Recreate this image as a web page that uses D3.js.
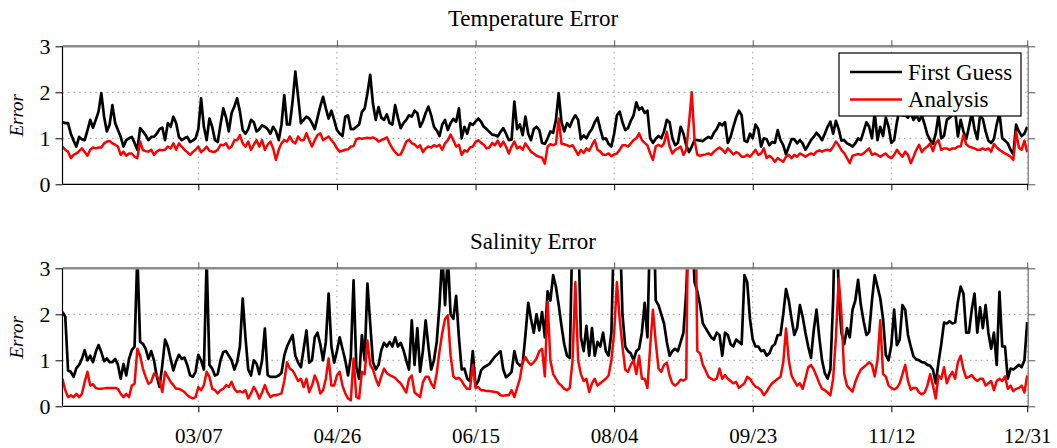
<!DOCTYPE html>
<html><head><meta charset="utf-8">
<script src="https://cdn.jsdelivr.net/npm/d3@7"></script>
<style>
body{margin:0;background:#fff;}
svg{display:block;}
text{font-family:"Liberation Serif","Times New Roman",serif;fill:#000;}
</style>
</head><body>
<svg id="c" width="1057" height="448"></svg>
<script>
const startDate = "2009-01-17";
const xTickLabels = ["03/07","04/26","06/15","08/04","09/23","11/12","12/31"];
const yTickLabels = ["0","1","2","3"];
const panelTitles = ["Temperature Error","Salinity Error"];
const seriesNames = ["First Guess","Analysis"];
const yLabel = "Error";

const tempFirstGuess = [
1.35,1.33,1.33,1.1,0.95,0.82,1.03,0.98,0.96,1.17,
1.40,1.23,1.40,1.58,1.98,1.47,1.15,1.3,1.72,1.33,
1.18,1.03,0.82,0.96,1.0,1.03,0.9,0.75,1.22,1.15,
1.07,0.96,1.03,1.03,1.1,1.2,1.23,0.96,1.33,1.25,
1.47,1.33,1.03,0.96,1.0,1.03,0.92,0.95,1.0,1.2,
1.87,1.25,0.96,1.43,1.25,0.96,0.92,1.3,1.65,1.45,
1.15,1.55,1.69,1.87,1.58,1.18,1.10,1.2,1.40,1.35,
1.15,1.2,1.28,1.25,1.20,1.10,1.25,1.15,0.96,1.3,
1.94,1.3,1.3,1.8,2.45,1.9,1.33,1.4,1.47,1.43,
1.33,1.2,1.45,1.7,1.9,1.65,1.43,1.6,1.4,1.18,
1.1,1.05,1.47,1.5,1.2,1.2,1.25,1.3,1.57,1.65,
1.98,2.38,1.75,1.4,1.68,1.45,1.4,1.52,1.33,1.30,
1.72,1.45,1.22,1.33,1.40,1.50,1.47,1.60,1.55,1.25,
1.37,1.55,1.69,1.5,1.25,1.17,1.05,1.3,1.40,1.18,
1.33,1.42,1.36,1.65,1.0,1.25,1.1,1.33,1.29,1.36,
1.43,1.36,1.25,1.20,1.14,1.08,1.07,1.04,1.14,1.22,
1.10,0.96,0.97,1.8,1.2,1.3,1.07,1.47,1.1,0.96,
1.2,1.25,1.18,0.9,0.88,1.0,1.15,1.12,1.4,1.98,
1.35,1.15,1.33,1.25,1.40,1.5,1.4,0.98,1.06,1.0,
1.12,1.2,1.35,1.45,1.2,0.98,1.0,0.88,0.82,1.1,
1.5,1.58,1.35,1.18,1.22,1.38,1.5,1.78,1.62,1.67,
1.55,1.6,1.0,0.9,0.99,1.05,1.0,1.15,1.4,1.35,
1.0,0.85,0.9,1.25,1.1,0.85,0.7,0.82,0.96,0.96,
0.95,0.94,0.99,1.03,1.0,1.12,1.2,1.33,1.28,1.35,
0.9,1.03,1.25,1.45,1.6,1.5,0.95,0.92,1.1,1.0,
1.3,1.2,0.82,1.0,0.98,0.85,0.92,0.9,1.18,0.96,
0.85,0.65,0.82,0.98,0.98,0.89,0.96,0.89,0.75,0.85,
0.96,1.03,1.12,1.05,0.96,1.1,1.25,1.36,1.10,1.38,
1.2,0.95,0.96,0.89,0.86,0.82,0.89,1.0,0.96,1.15,
1.35,1.25,1.0,1.55,0.96,1.25,1.05,1.45,1.25,0.9,
0.96,1.35,1.65,1.5,1.5,1.45,1.55,1.4,1.5,1.38,
1.5,1.3,1.08,0.96,0.88,1.1,1.5,1.0,1.05,1.4,
1.45,1.5,1.6,1.04,1.4,1.15,0.98,1.25,1.55,1.2,
0.98,1.5,1.42,1.15,0.95,0.90,0.98,1.3,1.55,1.0,
0.95,0.89,0.75,0.65,1.3,1.15,1.05,1.1,1.25
];
const tempAnalysis = [
0.82,0.75,0.71,0.57,0.64,0.67,0.72,0.78,0.70,0.62,
0.75,0.80,0.78,0.80,0.80,0.89,0.93,0.94,0.89,0.86,
0.82,0.64,0.71,0.62,0.67,0.67,0.60,0.57,0.93,0.75,
0.72,0.71,0.75,0.64,0.71,0.75,0.74,0.75,0.82,0.78,
0.89,0.75,0.89,0.82,0.75,0.70,0.64,0.70,0.75,0.82,
0.70,0.75,0.82,0.73,0.71,0.71,0.75,0.86,0.85,0.89,
0.78,0.82,0.96,0.96,1.07,0.89,0.82,0.93,0.75,0.86,
0.96,0.82,0.96,0.75,0.86,0.93,0.78,0.53,0.75,0.89,
0.96,0.93,1.04,0.93,0.89,1.04,0.96,0.96,1.11,0.96,
0.82,0.96,1.07,1.11,0.96,1.0,1.04,0.96,0.89,0.78,
0.71,0.73,0.75,0.76,0.82,0.83,0.98,1.0,0.99,1.0,
1.01,1.0,1.02,0.99,0.93,0.96,0.99,1.02,0.89,0.78,
0.70,0.64,0.65,0.78,0.93,0.97,0.89,0.87,0.80,0.85,
0.70,0.78,0.82,0.80,0.85,0.82,0.86,0.75,0.89,0.96,
1.08,0.96,0.82,0.86,0.64,0.74,0.71,0.80,0.82,0.92,
0.96,0.90,0.86,0.78,0.80,0.90,0.85,0.95,0.82,0.93,
0.82,0.67,0.82,0.93,0.78,0.82,0.75,0.89,0.80,0.71,
0.67,0.62,0.6,0.58,0.45,0.82,0.87,0.85,0.88,1.43,
0.88,0.87,0.85,0.82,0.85,0.75,0.64,0.75,0.68,0.78,
0.73,0.85,0.96,0.75,0.71,0.64,0.64,0.67,0.61,0.65,
0.67,0.75,0.85,0.85,0.82,0.89,0.96,1.0,1.11,0.96,
0.9,0.85,0.67,0.53,0.82,0.86,0.82,0.89,1.14,0.82,
0.67,0.75,0.78,0.82,0.64,0.75,1.33,2.0,0.96,0.64,
0.62,0.64,0.65,0.67,0.64,0.71,0.76,0.80,0.75,0.68,
0.78,0.72,0.65,0.7,0.67,0.60,0.6,0.64,0.6,0.67,
0.75,0.64,0.67,0.78,0.57,0.62,0.57,0.49,0.57,0.53,
0.49,0.6,0.64,0.57,0.64,0.60,0.67,0.64,0.60,0.64,
0.67,0.64,0.71,0.74,0.71,0.74,0.75,0.73,0.82,0.93,
0.85,0.74,0.68,0.57,0.46,0.62,0.64,0.66,0.64,0.67,
0.73,0.78,0.64,0.67,0.64,0.60,0.64,0.67,0.60,0.57,
0.64,0.75,0.67,0.60,0.71,0.64,0.46,0.6,0.75,0.86,
0.70,0.78,0.82,0.89,0.72,0.90,0.96,0.75,0.78,0.78,
0.75,0.78,0.78,0.82,0.82,1.07,0.87,0.82,0.80,0.78,
0.75,0.75,0.78,0.75,0.78,0.71,0.88,0.80,0.75,0.71,
0.67,0.64,0.6,0.53,1.14,0.8,0.75,0.95,0.7
];
const salFirstGuess = [
2.05,1.95,0.78,0.75,0.64,0.83,0.9,1.03,1.22,1.0,
1.1,0.96,1.18,1.33,1.18,0.98,1.04,0.96,0.96,1.03,
0.9,0.6,0.92,0.67,1.03,1.22,1.3,3.3,1.4,1.36,
1.25,1.03,1.2,1.0,0.65,0.42,0.89,1.45,1.3,1.03,
0.78,0.98,1.12,1.03,1.06,0.9,0.68,0.64,0.75,1.12,
1.0,0.8,3.2,0.9,0.82,0.67,0.7,1.0,1.18,1.2,
1.1,1.0,0.8,0.96,1.3,2.34,1.5,0.8,0.67,1.0,
0.93,0.7,1.0,1.69,0.68,0.64,0.64,0.64,0.67,0.73,
1.1,1.3,1.43,1.55,1.1,0.95,0.85,1.25,1.65,0.95,
1.0,1.5,1.6,1.35,1.0,1.4,2.45,1.3,0.95,1.2,
1.5,1.25,1.0,0.67,1.07,2.74,0.85,0.6,1.55,1.0,
2.67,1.8,0.96,0.8,0.9,1.22,1.38,1.3,1.4,1.3,
1.5,1.3,1.38,1.22,1.0,0.8,1.87,0.9,1.7,0.75,
1.2,1.87,1.3,0.8,1.0,1.4,2.2,3.3,2.2,3.3,
2.0,1.9,2.4,1.5,0.8,0.82,0.6,0.55,1.2,0.45,
0.55,0.78,0.85,0.88,0.92,1.0,1.08,1.14,1.2,0.8,
0.63,0.68,0.75,1.2,0.95,0.88,0.93,1.55,2.25,1.9,
1.6,2.0,1.65,2.05,1.5,2.5,2.3,2.85,2.6,2.2,
1.75,1.35,1.1,1.05,4,5,4,1.5,1.2,1.75,
1.1,1.7,1.1,1.4,1.3,1.6,1.2,1.1,1.6,4,
5,4,2.0,1.3,1.2,1.15,1.0,1.2,1.25,1.6,
2.25,1.5,4,5,2.3,2.2,2.0,1.8,1.4,1.1,
1.2,1.25,1.2,1.4,1.6,2.5,4,4,2.7,2.5,
2.2,1.8,1.7,1.6,1.5,1.45,1.6,1.55,1.1,1.6,
1.55,1.35,1.3,1.45,1.4,1.35,2.85,2.7,1.9,1.45,
1.3,1.3,1.2,1.22,1.1,1.15,1.3,1.35,1.55,1.55,
2.0,2.55,2.3,1.9,1.55,1.7,2.2,1.95,1.6,1.3,
1.05,1.65,2.1,1.5,1.0,0.72,0.6,0.8,2.3,5,
2.4,1.6,1.35,1.7,1.5,2.1,2.3,2.75,2.2,1.85,
1.55,1.62,2.3,2.85,2.6,2.35,1.9,1.12,1.0,1.33,
2.1,1.33,1.45,2.2,2.1,1.55,1.3,1.08,1.02,1.0,
0.96,0.95,0.9,0.88,0.8,0.5,0.95,1.35,1.82,1.8,
1.85,1.8,1.82,2.27,2.6,2.45,1.6,1.6,2.1,2.45,
1.6,2.15,1.7,2.2,1.6,1.25,1.6,0.9,2.49,1.3,
1.3,0.6,0.82,0.8,0.85,0.9,0.85,1.0,1.83
];
const salAnalysis = [
0.6,0.35,0.2,0.24,0.2,0.27,0.2,0.27,0.53,0.75,
0.45,0.48,0.40,0.38,0.38,0.39,0.4,0.4,0.4,0.4,
0.38,0.27,0.2,0.27,0.2,0.45,0.49,1.25,1.1,0.82,
0.64,0.49,0.53,0.71,0.67,0.56,0.31,0.75,0.64,0.53,
0.46,0.38,0.38,0.35,0.31,0.24,0.2,0.17,0.2,0.42,
0.35,0.46,0.75,0.64,0.38,0.35,0.28,0.35,0.38,0.46,
0.42,0.53,0.38,0.31,0.33,0.3,0.35,0.17,0.28,0.42,
0.32,0.17,0.3,0.46,0.3,0.2,0.24,0.24,0.26,0.28,
0.55,0.96,0.82,0.78,0.67,0.55,0.6,0.42,0.6,0.31,
0.45,0.67,0.53,0.28,0.35,0.6,1.04,0.45,0.45,0.67,
0.75,0.45,0.28,0.17,0.13,1.04,0.2,0.17,0.75,0.7,
1.43,0.9,0.8,0.6,0.45,0.65,0.82,0.72,0.68,0.65,
0.62,0.55,0.5,0.4,0.3,0.6,0.67,0.3,0.25,0.2,
0.52,0.64,0.64,0.5,0.4,0.72,1.2,1.6,1.9,1.98,
1.1,0.65,0.6,0.62,0.55,0.45,0.38,0.38,0.9,0.4,
0.42,0.35,0.35,0.33,0.33,0.32,0.31,0.3,0.24,0.23,
0.24,0.24,0.35,0.2,0.4,0.6,0.96,1.07,0.96,0.9,
0.96,1.04,1.2,1.25,0.65,2.27,1.0,0.7,0.6,0.5,
0.45,0.38,0.35,0.4,1.0,2.7,1.0,0.7,0.55,0.6,
0.31,0.5,0.6,0.45,0.5,0.55,0.6,0.67,1.0,1.6,
2.7,1.9,1.3,0.8,0.75,0.9,1.0,0.7,1.1,0.6,
0.6,0.4,1.3,2.1,1.4,0.82,0.75,0.9,0.95,0.67,
0.5,0.45,0.5,0.58,0.56,0.6,6,6,6,1.2,
1.15,0.9,0.78,0.64,0.6,0.57,0.6,0.82,0.6,0.68,
0.6,0.55,0.5,0.53,0.4,0.45,0.5,0.64,0.6,0.5,
0.43,0.4,0.35,0.24,0.32,0.42,0.5,0.55,0.6,0.64,
0.95,1.69,1.0,0.67,0.55,0.45,0.5,0.38,0.6,0.85,
0.9,0.8,0.66,0.5,0.38,0.35,0.3,0.24,0.6,1.5,
2.78,2.0,0.7,0.45,0.38,0.32,0.53,0.68,0.8,0.85,
0.9,0.96,0.9,0.65,1.0,1.87,0.7,0.65,0.45,0.4,
0.37,0.4,0.5,0.7,0.9,0.55,0.36,0.4,0.4,0.3,
0.26,0.3,0.45,0.7,0.45,0.17,0.67,0.6,0.85,0.5,
0.65,0.75,0.6,0.96,1.1,0.8,0.62,0.64,0.68,0.6,
0.55,0.6,0.6,0.45,0.5,0.55,0.35,0.55,0.6,0.55,
0.65,0.38,0.45,0.33,0.38,0.4,0.45,0.3,0.67
];

const svg = d3.select("#c");
const start = d3.utcParse("%Y-%m-%d")(startDate);
const dates = tempFirstGuess.map((_, i) => d3.utcDay.offset(start, i));
const end = new Date(+dates[dates.length - 1] + 0.4 * 864e5);
const year = startDate.slice(0, 4);
const tickDates = xTickLabels.map(s => d3.utcParse("%m/%d/%Y")(s + "/" + year));
const L = 62.5, R = 1028.3;
const x = d3.scaleUtc().domain([start, end]).range([L, R]);
const FONT = '"Liberation Serif","Times New Roman",serif';

const panels = [
  {title: panelTitles[0], fg: tempFirstGuess, an: tempAnalysis, bottom: 184.3, top: 46.3, titleY: 26, labels: false, legend: true},
  {title: panelTitles[1], fg: salFirstGuess, an: salAnalysis, bottom: 406.3, top: 268.3, titleY: 249, labels: true, legend: false}
];

panels.forEach((p, k) => {
  const y = d3.scaleLinear().domain([0, 3]).range([p.bottom, p.top]);
  const g = svg.append("g");

  // grid
  g.append("g").selectAll("line").data([1, 2]).join("line")
    .attr("x1", L).attr("x2", R).attr("y1", d => y(d)).attr("y2", d => y(d))
    .attr("stroke", "#9a9a9a").attr("stroke-width", 1).attr("stroke-dasharray", "1.5,4");
  g.append("g").selectAll("line").data(tickDates).join("line")
    .attr("x1", d => x(d)).attr("x2", d => x(d)).attr("y1", p.top).attr("y2", p.bottom)
    .attr("stroke", "#9a9a9a").attr("stroke-width", 1).attr("stroke-dasharray", "1.5,4");

  // clip
  const cid = "clip" + k;
  svg.append("clipPath").attr("id", cid).append("rect")
    .attr("x", L).attr("y", p.top).attr("width", R - L).attr("height", p.bottom - p.top);

  const line = d3.line().x((d, i) => x(dates[i])).y(d => y(d));
  const lg = g.append("g").attr("clip-path", `url(#${cid})`);
  lg.append("path").attr("d", line(p.fg)).attr("fill", "none").attr("stroke", "#000")
    .attr("stroke-width", 2.7).attr("stroke-linejoin", "round");
  lg.append("path").attr("d", line(p.an)).attr("fill", "none").attr("stroke", "#ff0000")
    .attr("stroke-width", 2.5).attr("stroke-linejoin", "round");

  // frame
  g.append("line").attr("x1", L).attr("x2", R).attr("y1", p.top).attr("y2", p.top)
    .attr("stroke", "#8c8c8c").attr("stroke-width", 2.5);
  g.append("line").attr("x1", R).attr("x2", R).attr("y1", p.top).attr("y2", p.bottom)
    .attr("stroke", "#8c8c8c").attr("stroke-width", 1.5);
  g.append("line").attr("x1", L).attr("x2", L).attr("y1", p.top).attr("y2", p.bottom)
    .attr("stroke", "#000").attr("stroke-width", 1.2);
  g.append("line").attr("x1", L).attr("x2", R).attr("y1", p.bottom).attr("y2", p.bottom)
    .attr("stroke", "#000").attr("stroke-width", 1.2);

  // axes
  const ya = d3.axisLeft(y).tickValues([0, 1, 2, 3]).tickSize(7).tickSizeOuter(0)
    .tickFormat((d, i) => yTickLabels[i]);
  const yA = g.append("g").attr("transform", `translate(${L},0)`).call(ya)
    .attr("font-family", FONT);
  yA.select(".domain").remove();
  yA.selectAll("text").attr("font-size", 22).attr("x", -12).attr("dy", "0.34em");
  yA.selectAll("line").attr("stroke", "#000");

  const yr = g.append("g").attr("transform", `translate(${R},0)`)
    .call(d3.axisRight(y).tickValues([0, 1, 2, 3]).tickSize(7).tickSizeOuter(0).tickFormat(""));
  yr.select(".domain").remove();
  yr.selectAll("line").attr("stroke", "#555");

  const xt = g.append("g").attr("transform", `translate(0,${p.top})`)
    .call(d3.axisTop(x).tickValues(tickDates).tickSize(6).tickSizeOuter(0).tickFormat(""));
  xt.select(".domain").remove();
  xt.selectAll("line").attr("stroke", "#555");

  const xb = g.append("g").attr("transform", `translate(0,${p.bottom})`)
    .call(d3.axisBottom(x).tickValues(tickDates).tickSize(6).tickSizeOuter(0)
      .tickFormat((d, i) => p.labels ? xTickLabels[i] : ""))
    .attr("font-family", FONT);
  xb.select(".domain").remove();
  xb.selectAll("line").attr("stroke", "#000");
  xb.selectAll("text").attr("font-size", 21).attr("y", 21.5).attr("dy", "0.71em");

  // titles & y label
  svg.append("text").attr("x", 533).attr("y", p.titleY).attr("text-anchor", "middle")
    .attr("font-size", 23).text(p.title);
  svg.append("text").attr("transform", `translate(23,${(p.top + p.bottom) / 2}) rotate(-90)`)
    .attr("text-anchor", "middle").attr("font-size", 19).attr("font-style", "italic").text(yLabel);

  if (p.legend) {
    const lgd = svg.append("g");
    lgd.append("rect").attr("x", 839).attr("y", 53).attr("width", 182).attr("height", 63)
      .attr("fill", "#fff").attr("stroke", "#000").attr("stroke-width", 1.2);
    const colors = ["#000", "#ff0000"];
    seriesNames.forEach((n, i) => {
      const yy = 72 + i * 27.5;
      lgd.append("line").attr("x1", 850).attr("x2", 902).attr("y1", yy).attr("y2", yy)
        .attr("stroke", colors[i]).attr("stroke-width", 2.6);
      lgd.append("text").attr("x", 908).attr("y", yy + 7.5).attr("font-size", 23).text(n);
    });
  }
});
</script>
</body></html>
